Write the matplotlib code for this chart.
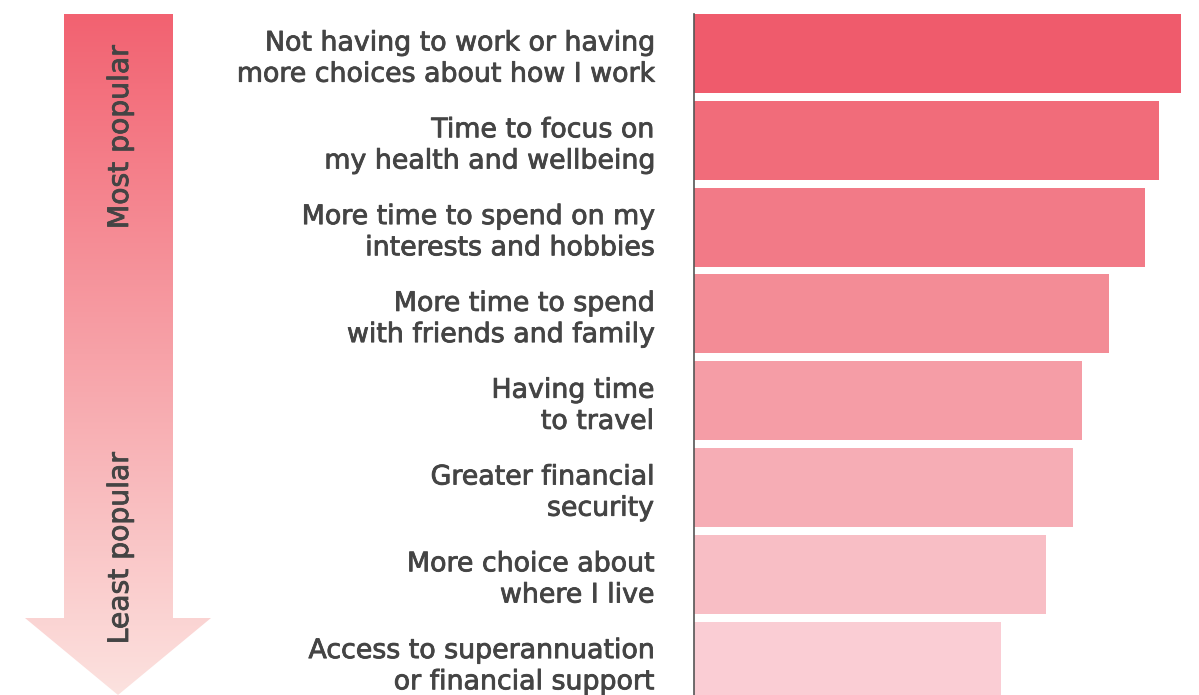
import numpy as np
import matplotlib.pyplot as plt
import matplotlib.patheffects as pe
from matplotlib.patches import Polygon

plt.rcParams['font.family'] = ['DejaVu Sans']

# reasons, most popular first
labels = [
    "Not having to work or having\nmore choices about how I work",
    "Time to focus on\nmy health and wellbeing",
    "More time to spend on my\ninterests and hobbies",
    "More time to spend\nwith friends and family",
    "Having time\nto travel",
    "Greater financial\nsecurity",
    "More choice about\nwhere I live",
    "Access to superannuation\nor financial support",
]
values = [100, 95.5, 92.6, 85.2, 79.7, 77.8, 72.3, 63.0]
colors = ["#ef5b6c", "#f16c7a", "#f27a87", "#f38c96", "#f59da6", "#f6adb5",
          "#f8bec5", "#facdd4"]
text_color = "#444444"
# slight stroke to get a medium weight look
medium = [pe.withStroke(linewidth=0.6, foreground=text_color)]

W, H = 1199, 695
fig = plt.figure(figsize=(W / 100, H / 100), dpi=100)

# background layer for the gradient arrow
bg = fig.add_axes([0, 0, 1, 1])
bg.set_xlim(0, W)
bg.set_ylim(H, 0)
bg.axis("off")

arrow_pts = [(64, 14), (173, 14), (173, 618), (211, 618), (118, 695),
             (25, 618), (64, 618)]
arrow = Polygon(arrow_pts, closed=True, facecolor="none", edgecolor="none")
bg.add_patch(arrow)
top_c = np.array([242, 98, 113]) / 255
bot_c = np.array([252, 226, 223]) / 255
t = np.linspace(0, 1, 256)[:, None]
grad = (top_c * (1 - t) + bot_c * t)[:, None, :]
im = bg.imshow(grad, extent=[25, 211, 695, 14], aspect="auto", zorder=1)
im.set_clip_path(arrow)

for txt, yc in [("Most popular", 137), ("Least popular", 548)]:
    bg.text(120, yc, txt, rotation=90, ha="center", va="center",
            fontsize=20.3, color=text_color, zorder=2, path_effects=medium)

# bar chart
pitch = 86.8
bar_h = 0.91
ax_left = 694 / W
ax_top = 14
ax_w = (1190 - 694) / W
top_lim = -bar_h / 2
bot_lim = top_lim + (H - ax_top) / pitch
ax = fig.add_axes([ax_left, 0, ax_w, (H - ax_top) / H])
ax.patch.set_alpha(0)

y = np.arange(len(labels))
ax.barh(y, values, height=bar_h, color=colors, zorder=2)
ax.set_ylim(bot_lim, top_lim)
ax.set_xlim(0, 100 * (1190 - 694) / (1181 - 694))

ax.set_yticks(y)
ax.set_yticklabels(labels, fontsize=19.3, color=text_color, linespacing=1.26)
for lbl in ax.get_yticklabels():
    lbl.set_path_effects(medium)
ax.tick_params(axis="y", length=0, pad=29)
ax.set_xticks([])
for side in ["top", "right", "bottom"]:
    ax.spines[side].set_visible(False)
ax.spines["left"].set_color("#555555")
ax.spines["left"].set_linewidth(1.2)

fig.savefig("out.png", dpi=100)
